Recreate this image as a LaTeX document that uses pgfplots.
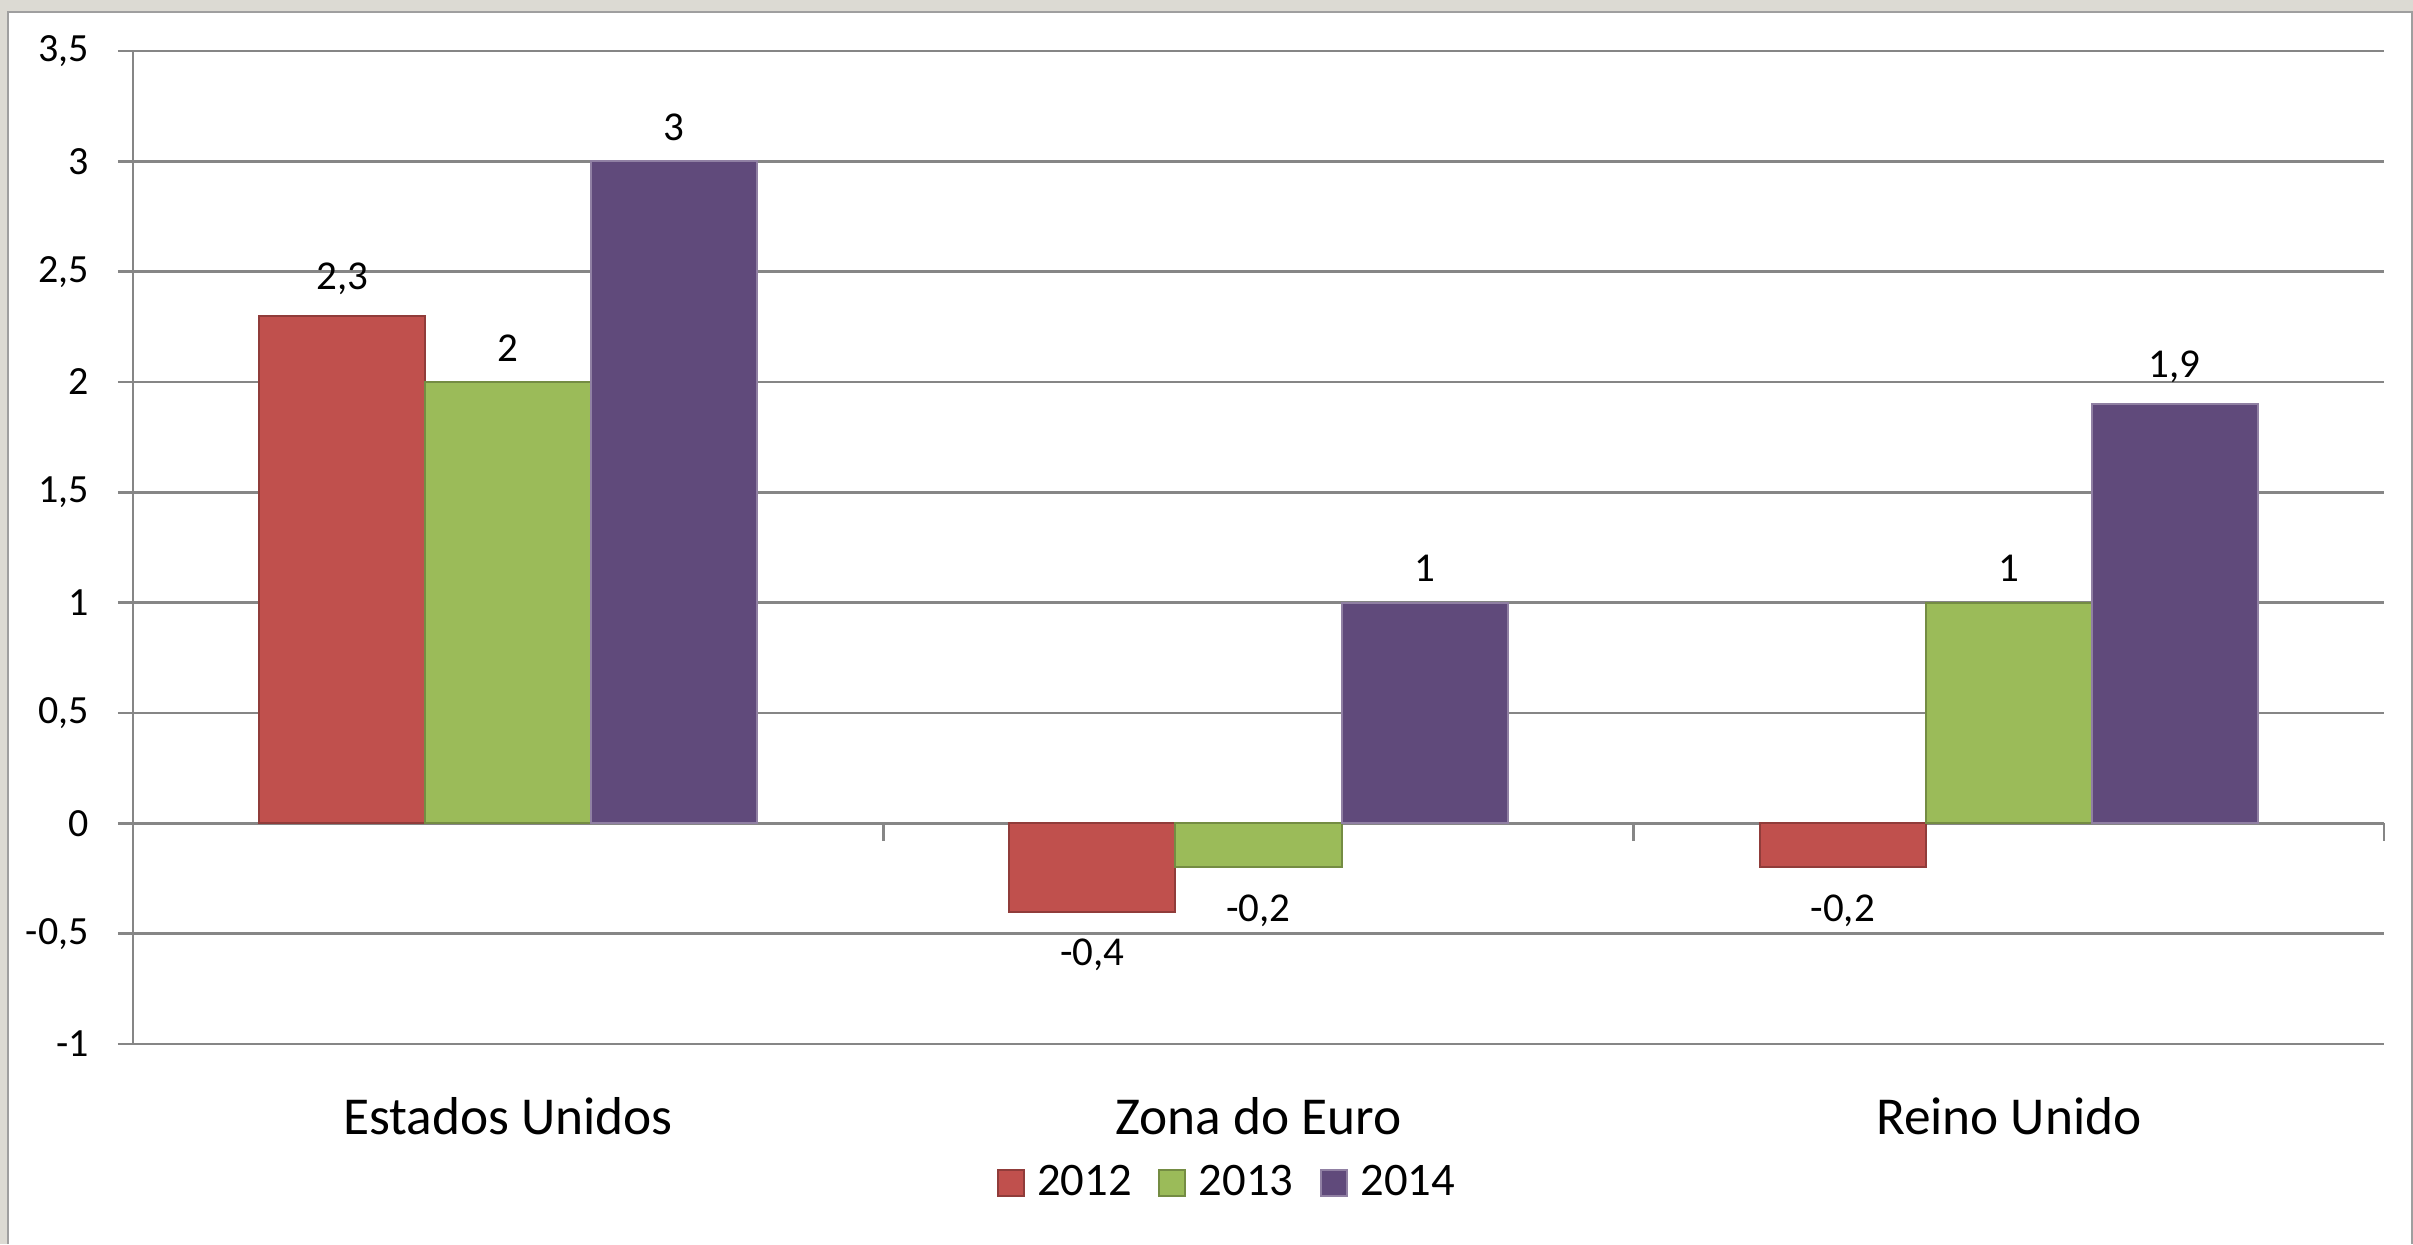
\documentclass[border=0pt]{standalone}
\usepackage{fontspec}
\setmainfont{Carlito}
\usepackage{pgfplots}
\pgfplotsset{compat=1.18}
\definecolor{c12}{HTML}{C0504D}
\definecolor{c13}{HTML}{9BBB59}
\definecolor{c14}{HTML}{604A7B}
\definecolor{gridc}{HTML}{868686}
\definecolor{bgc}{HTML}{DCDAD3}
\pgfplotsset{sqlegend/.style={legend image code/.code={\draw[##1] (0pt,-3.9pt) rectangle (7.8pt,3.9pt); \path (9.6pt,0pt);}}}
\begin{document}
\begin{tikzpicture}[x=0.3pt,y=0.3pt]
\useasboundingbox (0,0) rectangle (2413,1244);
\fill[bgc] (0,0) rectangle (2413,1244);
\fill[white] (8,0) rectangle (2412,1232);
\draw[gray!75, line width=0.8pt] (8,0) -- (8,1232) -- (2412,1232) -- (2412,0);
\begin{axis}[
  at={(39.9pt,60pt)}, anchor=south west,
  scale only axis, width=675.3pt, height=297.9pt,
  xmin=-0.5, xmax=2.5, ymin=-1, ymax=3.5,
  ytick={-1,-0.5,0,0.5,1,1.5,2,2.5,3,3.5},
  xtick={0,1,2},
  xticklabels={Estados Unidos, Zona do Euro, Reino Unido},
  x tick style={draw=none},
  axis x line*=bottom, axis y line*=left,
  x axis line style={draw=gridc, line width=0.75pt},
  y axis line style={draw=gridc, line width=0.75pt},
  ymajorgrids, grid style={gridc, line width=0.75pt},
  ytick style={gridc, line width=0.75pt},
  tick align=outside, major tick length=4.5pt,
  /pgf/number format/use comma,
  /pgf/number format/assume math mode=true,
  yticklabel style={font=\fontsize{12}{14}\selectfont, text=black, inner xsep=8.6pt},
  xticklabel style={font=\fontsize{16}{19}\selectfont, text=black, yshift=-8pt},
  ybar=0pt, bar width=49.8pt,
  nodes near coords,
  visualization depends on={y \as \rawy},
  nodes near coords style={font=\fontsize{12.3}{14}\selectfont, text=black, inner sep=6pt,
    yshift={(\rawy<0)*(-2)}},
  legend style={at={(0.487,-0.140)}, anchor=center, legend columns=3, draw=none, fill=none,
    font=\fontsize{14}{16}\selectfont,
    /tikz/every even column/.append style={column sep=5.9pt}},
  clip=false,
]
\addplot[fill=c12, draw=c12!75!black, line width=0.6pt, sqlegend]
  coordinates {(0,2.3) (1,-0.4) (2,-0.2)};
\addplot[fill=c13, draw=c13!75!black, line width=0.6pt, sqlegend]
  coordinates {(0,2) (1,-0.2) (2,1)};
\addplot[fill=c14, draw=c14!70!white, line width=0.6pt, sqlegend]
  coordinates {(0,3) (1,1) (2,1.9)};
\legend{2012,2013,2014}
\draw[gridc, line width=0.75pt] (axis cs:0.5,0) -- ++(0pt,-5.3pt);
\draw[gridc, line width=0.75pt] (axis cs:1.5,0) -- ++(0pt,-5.3pt);
\draw[gridc, line width=0.75pt] (axis cs:2.5,0) -- ++(0pt,-5.3pt);
\end{axis}
\end{tikzpicture}
\end{document}
